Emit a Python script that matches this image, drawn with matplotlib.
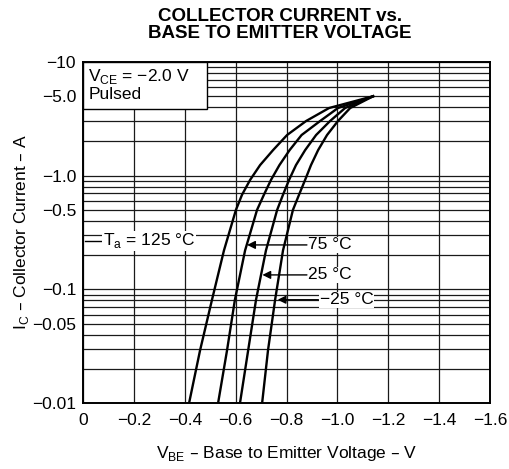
import matplotlib.pyplot as plt
from matplotlib.patches import Rectangle
from matplotlib.ticker import LogLocator, NullFormatter

plt.rcParams['font.family'] = ['Liberation Sans', 'DejaVu Sans']

# collector current magnitude (A), shared by all curves (Ic is negative, PNP)
ic = [0.01, 0.029, 0.081, 0.22, 0.5, 0.68, 0.92, 1.24, 1.68, 2.28, 3.03, 3.94, 5.0]

# base to emitter voltage (V) for each ambient temperature
vbe_125 = [-0.417, -0.46, -0.507, -0.554, -0.601, -0.625, -0.657, -0.696, -0.747, -0.802,
           -0.877, -0.967, -1.14]
vbe_75 = [-0.531, -0.566, -0.597, -0.637, -0.684, -0.711, -0.739, -0.772, -0.812, -0.859,
          -0.932, -1.002, -1.14]
vbe_25 = [-0.617, -0.649, -0.68, -0.719, -0.763, -0.786, -0.81, -0.837, -0.873, -0.916,
          -0.971, -1.03, -1.14]
vbe_m25 = [-0.704, -0.727, -0.755, -0.786, -0.825, -0.849, -0.873, -0.896, -0.924, -0.959,
           -1.002, -1.05, -1.14]

xticks = [0, -0.2, -0.4, -0.6, -0.8, -1.0, -1.2, -1.4, -1.6]
xlabels = ["0", "−0.2", "−0.4", "−0.6", "−0.8", "−1.0", "−1.2", "−1.4", "−1.6"]
yticks = [10, 5, 1, 0.5, 0.1, 0.05, 0.01]
ylabels = ["−10", "−5.0", "−1.0", "−0.5", "−0.1", "−0.05", "−0.01"]

fig = plt.figure(figsize=(5.09, 4.69), dpi=100)
ax = fig.add_axes([0.163, 0.1407, 0.8, 0.727])

for v in [vbe_125, vbe_75, vbe_25, vbe_m25]:
    ax.plot(v, ic, color='black', lw=1.7, zorder=4, solid_joinstyle='round')

ax.set_yscale('log')
ax.set_xlim(0, -1.6)
ax.set_ylim(0.01, 10)
ax.set_xticks(xticks)
ax.set_xticklabels(xlabels)
ax.set_yticks(yticks)
ax.set_yticklabels(ylabels)
ax.yaxis.set_minor_locator(LogLocator(base=10, subs=range(2, 10)))
ax.yaxis.set_minor_formatter(NullFormatter())
ax.tick_params(axis='both', which='both', length=0, labelsize=12.5)
ax.tick_params(axis='x', pad=7)
ax.tick_params(axis='y', pad=5)
ax.grid(True, which='both', axis='y', color='0.1', lw=0.9)
ax.grid(True, which='major', axis='x', color='0.1', lw=0.9)
for s in ax.spines.values():
    s.set_linewidth(1.4)

# parameter box
ax.add_patch(Rectangle((0, 1 - 47 / 341), 124 / 407, 47 / 341, transform=ax.transAxes,
                       fc='white', ec='black', lw=1.0, zorder=5))
ax.text(0.013, 0.985, "V$_\\mathregular{CE}$ = −2.0 V\nPulsed", transform=ax.transAxes,
        ha='left', va='top', fontsize=12.5, linespacing=1.05, zorder=6)

# temperature labels
ax.plot([-0.008, -0.08], [0.267, 0.267], color='black', lw=1.0, zorder=5)
ax.text(-0.079, 0.267, "T$_\\mathregular{a}$ = 125 °C", ha='left', va='center', fontsize=12.5,
        zorder=6, bbox=dict(fc='white', ec='none', pad=0.5))

for tip, y, xtext, lab in [(-0.645, 0.246, -0.88, "75 °C"),
                           (-0.705, 0.134, -0.88, "25 °C"),
                           (-0.765, 0.081, -0.925, "−25 °C")]:
    ax.annotate("", xy=(tip, y), xytext=(xtext, y),
                arrowprops=dict(arrowstyle='-|>', color='black', lw=1.0,
                                mutation_scale=12, shrinkA=0, shrinkB=0), zorder=6)
    ax.text(xtext - 0.005, y, lab, ha='left', va='center', fontsize=12.5, zorder=6,
            bbox=dict(fc='white', ec='none', pad=0.5))

ax.set_xlabel("V$_\\mathregular{BE}$ – Base to Emitter Voltage – V", fontsize=12.5, labelpad=12)
ax.set_ylabel("I$_\\mathregular{C}$ – Collector Current – A", fontsize=12.5, labelpad=1)
fig.text(0.55, 0.983, "COLLECTOR CURRENT vs.\nBASE TO EMITTER VOLTAGE", ha='center', va='top',
         fontsize=13.5, fontweight='bold', linespacing=1.0)

fig.savefig("out.png", dpi=100)
